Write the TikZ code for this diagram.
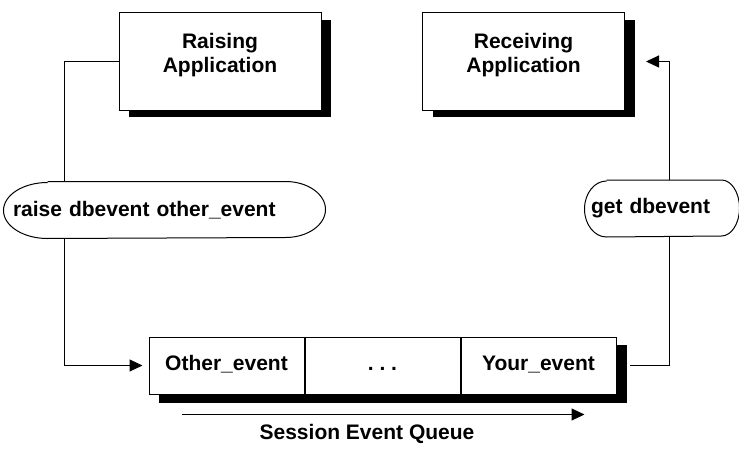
\documentclass[tikz,border=0pt]{standalone}
\usepackage{fontspec}
\setmainfont{Liberation Sans}
\usetikzlibrary{arrows.meta, positioning, calc, shadows, backgrounds}

\begin{document}
\begin{tikzpicture}[
    x=1pt, y=1pt,
    font=\fontsize{21}{24}\selectfont\bfseries,
    line width=1pt,
    appbox/.style={draw, fill=white, minimum width=202pt, minimum height=97pt, align=center, text depth=17pt,
        drop shadow={shadow xshift=10pt, shadow yshift=-7pt, fill=black, opacity=1}},
    cell/.style={draw, fill=white, minimum width=155pt, minimum height=57pt, inner sep=0pt,
        text height=15pt, text depth=4.5pt},
    pill/.style={minimum height=56pt, align=left, inner ysep=0pt},
    >={Triangle[length=13pt, width=12pt]}
]
\useasboundingbox (0,0) rectangle (739,-452);

% Applications
\node[appbox] (raising) at (220,-61.5) {Raising\\Application};
\node[appbox] (receiving) at (523.5,-61.5) {Receiving\\Application};

% Commands
\node[pill, text width=303pt, inner xsep=9pt] (raise) at (164.5,-210) {raise dbevent other\_event};
\node[pill, text width=142pt, inner xsep=6pt] (get) at (662,-208.5) {get dbevent};
\draw ([xshift=44pt]raise.north west) -- ([xshift=-40pt]raise.north east)
    arc[start angle=90, end angle=-90, x radius=40pt, y radius=28pt]
    -- ([xshift=44pt]raise.south west)
    arc[start angle=270, end angle=90, x radius=44pt, y radius=28pt];
\draw ([xshift=22pt]get.north west) -- ([xshift=-18pt]get.north east)
    arc[start angle=90, end angle=-90, x radius=18pt, y radius=28pt]
    -- ([xshift=22pt]get.south west)
    arc[start angle=270, end angle=90, x radius=22pt, y radius=28pt];

% Session event queue
\node[cell] (other) at (226.5,-365.5) {Other\_event};
\node[cell, right=0pt of other] (dots) {.\ .\ .};
\node[cell, right=0pt of dots] (your) {Your\_event};
\begin{scope}[on background layer]
\fill ([xshift=10pt, yshift=-8pt]other.south west) rectangle ([xshift=10pt, yshift=-8pt]your.north east);
\end{scope}
\draw[->] ([xshift=33pt, yshift=-20pt]other.south west) -- ([xshift=-32pt, yshift=-20pt]your.south east);
\node (queue) at (367,-434) {Session Event Queue};

% Connections
\coordinate (raiseline) at (64,0);
\draw (raising.west) -| (raiseline |- raise.north);
\draw[->] (raiseline |- raise.south) |- ([xshift=-6pt]other.west);
\coordinate (getline) at (669,0);
\draw ([xshift=13pt]your.east) -| (getline |- get.south);
\draw[->] (getline |- get.north) |- ([xshift=21pt]receiving.east);

\end{tikzpicture}
\end{document}
